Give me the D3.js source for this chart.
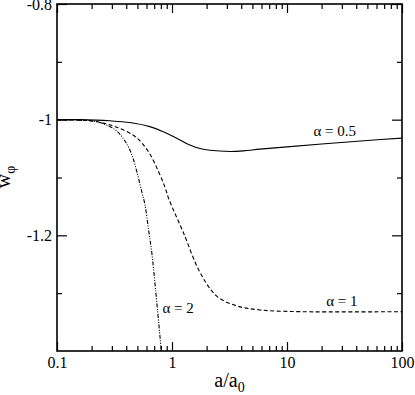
<!DOCTYPE html>
<html>
<head>
<meta charset="utf-8">
<script src="https://cdn.jsdelivr.net/npm/d3@7"></script>
<style>
  body { margin: 0; background: #fff; }
  text { font-family: "Liberation Serif", "Times New Roman", serif; fill: #000; }
</style>
</head>
<body>
<script>
// equation of state w_phi against a/a0, one curve per alpha
var aHalf = [0.1, 0.158, 0.289, 0.43, 0.64, 0.84, 1.1, 1.43, 1.75, 2.14, 3.19, 4.17, 5.82, 10, 20, 50, 100];
var wHalf = [-1.0, -1.0, -1.002, -1.005, -1.012, -1.021, -1.032, -1.044, -1.050, -1.053, -1.055, -1.054, -1.051, -1.047, -1.042, -1.036, -1.032];

var aOne = [0.1, 0.158, 0.214, 0.319, 0.477, 0.622, 0.76, 0.869, 0.942, 1.254, 1.752, 2.447, 3.65, 5.82, 13, 100];
var wOne = [-1.0, -1.001, -1.003, -1.012, -1.029, -1.055, -1.089, -1.117, -1.138, -1.195, -1.264, -1.305, -1.322, -1.329, -1.332, -1.332];

var aTwo = [0.1, 0.158, 0.214, 0.319, 0.39, 0.446, 0.493, 0.545, 0.582, 0.625, 0.67, 0.719, 0.787, 0.81];
var wTwo = [-1.0, -1.001, -1.003, -1.017, -1.037, -1.060, -1.089, -1.124, -1.147, -1.190, -1.233, -1.293, -1.376, -1.405];

var xMajor = [0.1, 1, 10, 100];
var yMajor = [-1.2, -1, -0.8];
var yMinor = [-1.3, -1.1, -0.9];

var width = 415, height = 395;
var plotL = 57, plotR = 402, plotT = 4, plotB = 351;

var x = d3.scaleLog().domain([0.1, 100]).range([plotL, plotR]);
var y = d3.scaleLinear().domain([-1.4, -0.8]).range([plotB, plotT]);

var svg = d3.select("body").append("svg")
    .attr("width", width)
    .attr("height", height);

svg.append("clipPath").attr("id", "plot")
  .append("rect")
    .attr("x", plotL).attr("y", plotT)
    .attr("width", plotR - plotL).attr("height", plotB - plotT);

// minor x ticks: log ticks that are not powers of ten
var xMinor = x.ticks().filter(function(d) { return xMajor.indexOf(d) < 0; });

function styleAxis(g) {
  g.select(".domain").remove();
  g.selectAll(".tick line").attr("stroke", "#000").attr("stroke-width", 1.2);
  g.selectAll("text").style("font-size", "16px").attr("fill", "#000")
    .style("font-family", "'Liberation Serif', 'Times New Roman', serif");
}

// bottom
svg.append("g").attr("transform", "translate(0," + plotB + ")")
  .call(d3.axisBottom(x).tickValues(xMajor).tickSize(-9).tickPadding(6)
        .tickFormat(function(d) { return d3.format("")(d); }))
  .call(styleAxis);
svg.append("g").attr("transform", "translate(0," + plotB + ")")
  .call(d3.axisBottom(x).tickValues(xMinor).tickSize(-5).tickFormat(""))
  .call(styleAxis);
// top
svg.append("g").attr("transform", "translate(0," + plotT + ")")
  .call(d3.axisTop(x).tickValues(xMajor).tickSize(-9).tickFormat(""))
  .call(styleAxis);
svg.append("g").attr("transform", "translate(0," + plotT + ")")
  .call(d3.axisTop(x).tickValues(xMinor).tickSize(-5).tickFormat(""))
  .call(styleAxis);
// left
svg.append("g").attr("transform", "translate(" + plotL + ",0)")
  .call(d3.axisLeft(y).tickValues(yMajor).tickSize(-10).tickPadding(5)
        .tickFormat(function(d) { return String(d); }))
  .call(styleAxis);
svg.append("g").attr("transform", "translate(" + plotL + ",0)")
  .call(d3.axisLeft(y).tickValues(yMinor).tickSize(-5).tickFormat(""))
  .call(styleAxis);
// right
svg.append("g").attr("transform", "translate(" + plotR + ",0)")
  .call(d3.axisRight(y).tickValues(yMajor).tickSize(-10).tickFormat(""))
  .call(styleAxis);
svg.append("g").attr("transform", "translate(" + plotR + ",0)")
  .call(d3.axisRight(y).tickValues(yMinor).tickSize(-5).tickFormat(""))
  .call(styleAxis);

// frame
svg.append("rect")
  .attr("x", plotL).attr("y", plotT)
  .attr("width", plotR - plotL).attr("height", plotB - plotT)
  .attr("fill", "none").attr("stroke", "#000").attr("stroke-width", 1.6);

var line = d3.line()
  .x(function(d) { return x(d[0]); })
  .y(function(d) { return y(d[1]); })
  .curve(d3.curveCatmullRom.alpha(0.5));

var curves = [
  { a: aHalf, w: wHalf, dash: null },
  { a: aOne, w: wOne, dash: "4,2.5" },
  { a: aTwo, w: wTwo, dash: "4,1.5,1,1.5,1,1.5" }
];

svg.append("g").attr("clip-path", "url(#plot)")
  .selectAll("path")
  .data(curves)
  .enter().append("path")
    .attr("d", function(c) { return line(d3.zip(c.a, c.w)); })
    .attr("fill", "none")
    .attr("stroke", "#000")
    .attr("stroke-width", 1.1)
    .attr("stroke-dasharray", function(c) { return c.dash; });

// curve labels (positions in data units)
var labelText = ["α = 0.5", "α = 1", "α = 2"];
var labelA = [26, 30, 1.13];
var labelW = [-1.029, -1.322, -1.334];

svg.selectAll(".lbl")
  .data(labelText)
  .enter().append("text")
    .attr("class", "lbl")
    .attr("x", function(d, i) { return x(labelA[i]); })
    .attr("y", function(d, i) { return y(labelW[i]); })
    .attr("text-anchor", "middle")
    .style("font-size", "15px")
    .text(function(d) { return d; });

// axis titles
var xt = svg.append("text")
  .attr("x", (plotL + plotR) / 2)
  .attr("y", 387)
  .attr("text-anchor", "middle")
  .style("font-size", "20px");
xt.append("tspan").text("a/a");
xt.append("tspan").attr("dy", 5).style("font-size", "14px").text("0");

var yt = svg.append("text")
  .attr("transform", "translate(10,177) rotate(-90)")
  .attr("text-anchor", "middle")
  .style("font-size", "20px");
yt.append("tspan").text("w");
yt.append("tspan").attr("dy", 5).style("font-size", "14px").text("φ");
</script>
</body>
</html>
